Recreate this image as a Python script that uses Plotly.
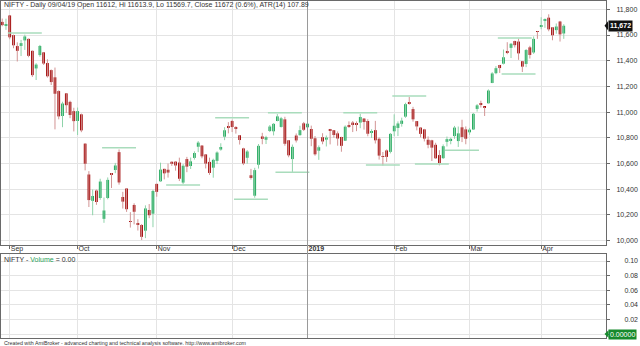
import plotly.graph_objects as go

# ---------------- data ----------------
DATES = [
    "2018-08-30", "2018-08-31",
    "2018-09-03", "2018-09-04", "2018-09-05", "2018-09-06", "2018-09-07", "2018-09-10", "2018-09-11",
    "2018-09-12", "2018-09-14", "2018-09-17", "2018-09-18", "2018-09-19", "2018-09-21", "2018-09-24",
    "2018-09-25", "2018-09-26", "2018-09-27", "2018-09-28",
    "2018-10-01", "2018-10-03", "2018-10-04", "2018-10-05", "2018-10-08", "2018-10-09", "2018-10-10",
    "2018-10-11", "2018-10-12", "2018-10-15", "2018-10-16", "2018-10-17", "2018-10-19", "2018-10-22",
    "2018-10-23", "2018-10-24", "2018-10-25", "2018-10-26", "2018-10-29", "2018-10-30", "2018-10-31",
    "2018-11-01", "2018-11-02", "2018-11-05", "2018-11-06", "2018-11-07", "2018-11-09", "2018-11-12",
    "2018-11-13", "2018-11-14", "2018-11-15", "2018-11-16", "2018-11-19", "2018-11-20", "2018-11-21",
    "2018-11-22", "2018-11-26", "2018-11-27", "2018-11-28", "2018-11-29", "2018-11-30",
    "2018-12-03", "2018-12-04", "2018-12-05", "2018-12-06", "2018-12-07", "2018-12-10", "2018-12-11",
    "2018-12-12", "2018-12-13", "2018-12-14", "2018-12-17", "2018-12-18", "2018-12-19", "2018-12-20",
    "2018-12-21", "2018-12-24", "2018-12-26", "2018-12-27", "2018-12-28", "2018-12-31",
    "2019-01-01", "2019-01-02", "2019-01-03", "2019-01-04", "2019-01-07", "2019-01-08", "2019-01-09",
    "2019-01-10", "2019-01-11", "2019-01-14", "2019-01-15", "2019-01-16", "2019-01-17", "2019-01-18",
    "2019-01-21", "2019-01-22", "2019-01-23", "2019-01-24", "2019-01-25", "2019-01-28", "2019-01-29",
    "2019-01-30", "2019-01-31",
    "2019-02-01", "2019-02-04", "2019-02-05", "2019-02-06", "2019-02-07", "2019-02-08", "2019-02-11",
    "2019-02-12", "2019-02-13", "2019-02-14", "2019-02-15", "2019-02-18", "2019-02-19", "2019-02-20",
    "2019-02-21", "2019-02-22", "2019-02-25", "2019-02-26", "2019-02-27", "2019-02-28",
    "2019-03-01", "2019-03-05", "2019-03-06", "2019-03-07", "2019-03-08", "2019-03-11", "2019-03-12",
    "2019-03-13", "2019-03-14", "2019-03-15", "2019-03-18", "2019-03-19", "2019-03-20", "2019-03-22",
    "2019-03-25", "2019-03-26", "2019-03-27", "2019-03-28", "2019-03-29",
    "2019-04-01", "2019-04-02", "2019-04-03", "2019-04-04", "2019-04-05", "2019-04-08", "2019-04-09",
]

OPEN = [
    11702, 11675,
    11752, 11599, 11514, 11515, 11558, 11570, 11477, 11340, 11444, 11465, 11382, 11327, 11271, 11164,
    10970, 11146, 11080, 11008,
    10931, 10983, 10755, 10515, 10310, 10390, 10332, 10170, 10332, 10524, 10550, 10689, 10340, 10406,
    10152, 10278, 10135, 10122, 10078, 10239, 10210,
    10442, 10462, 10559, 10552, 10614, 10615, 10608, 10452, 10635, 10581, 10644, 10731, 10740, 10671,
    10613, 10568, 10621, 10709, 10809, 10892,
    10931, 10877, 10820, 10718, 10645, 10509, 10350, 10591, 10811, 10785, 10853, 10851, 10931, 10885,
    10944, 10781, 10635, 10818, 10821, 10913,
    10882, 10869, 10797, 10700, 10805, 10786, 10862, 10859, 10835, 10807, 10778, 10900, 10919, 10915,
    10919, 10950, 10931, 10844, 10860, 10793, 10654, 10702, 10691,
    10851, 10877, 10909, 10965, 11070, 11024, 10930, 10880, 10866, 10785, 10781, 10746, 10666, 10642,
    10769, 10783, 10814, 10775, 10882, 10866,
    10843, 10865, 11025, 11068, 11039, 11069, 11227, 11303, 11367, 11377, 11474, 11500, 11553, 11549,
    11396, 11375, 11504, 11464, 11625,
    11665, 11712, 11735, 11660, 11638, 11705, 11612,
]

HIGH = [
    11728, 11727,
    11752, 11603, 11543, 11562, 11603, 11573, 11479, 11381, 11523, 11465, 11411, 11332, 11347, 11170,
    11081, 11146, 11089, 11034,
    11036, 10989, 10755, 10541, 10398, 10398, 10482, 10336, 10492, 10526, 10605, 10710, 10380, 10409,
    10222, 10291, 10167, 10129, 10275, 10285, 10396,
    10442, 10607, 10559, 10600, 10616, 10620, 10646, 10596, 10652, 10647, 10695, 10775, 10741, 10671,
    10646, 10638, 10695, 10758, 10883, 10922,
    10941, 10891, 10821, 10723, 10705, 10559, 10567, 10752, 10839, 10816, 10900, 10915, 10985, 10963,
    10964, 10782, 10748, 10834, 10894, 10924,
    10924, 10895, 10814, 10741, 10836, 10818, 10870, 10859, 10850, 10808, 10897, 10928, 10931, 10928,
    10987, 10950, 10945, 10867, 10932, 10804, 10690, 10710, 10838,
    10983, 10928, 10957, 11073, 11118, 11041, 10930, 10883, 10870, 10811, 10785, 10762, 10704, 10749,
    10810, 10802, 10893, 10888, 10941, 10889,
    10878, 10994, 11063, 11089, 11042, 11177, 11311, 11358, 11367, 11487, 11544, 11537, 11556, 11572,
    11396, 11491, 11516, 11589, 11630,
    11738, 11729, 11761, 11662, 11690, 11710, 11684,
]

LOW = [
    11668, 11640,
    11567, 11497, 11394, 11436, 11484, 11427, 11274, 11250, 11431, 11367, 11269, 11211, 10866, 10944,
    10883, 10993, 10953, 10850,
    10822, 10844, 10547, 10262, 10198, 10279, 10318, 10139, 10322, 10410, 10525, 10436, 10250, 10224,
    10102, 10127, 10079, 10005, 10020, 10175, 10105,
    10342, 10458, 10477, 10491, 10582, 10545, 10464, 10441, 10533, 10558, 10631, 10689, 10641, 10562,
    10512, 10490, 10596, 10700, 10782, 10835,
    10845, 10833, 10748, 10588, 10599, 10475, 10334, 10561, 10750, 10752, 10845, 10819, 10928, 10880,
    10739, 10649, 10535, 10764, 10817, 10853,
    10807, 10735, 10661, 10629, 10750, 10733, 10749, 10802, 10739, 10692, 10778, 10877, 10845, 10852,
    10875, 10864, 10812, 10799, 10756, 10631, 10584, 10613, 10679,
    10813, 10814, 10887, 10956, 11058, 10926, 10858, 10803, 10772, 10719, 10620, 10637, 10586, 10636,
    10733, 10750, 10793, 10729, 10767, 10750,
    10824, 10862, 11004, 11036, 10970, 11067, 11225, 11295, 11305, 11371, 11451, 11421, 11503, 11407,
    11312, 11350, 11417, 11453, 11570,
    11645, 11656, 11629, 11559, 11610, 11549, 11570,
]

CLOSE = [
    11677, 11680,
    11582, 11520, 11477, 11537, 11589, 11438, 11288, 11370, 11515, 11378, 11279, 11234, 11143, 10967,
    11067, 11054, 10978, 10930,
    11008, 10858, 10599, 10316, 10348, 10301, 10460, 10235, 10473, 10513, 10585, 10453, 10304, 10245,
    10147, 10225, 10125, 10030, 10251, 10198, 10387,
    10380, 10553, 10524, 10530, 10598, 10585, 10482, 10583, 10576, 10617, 10682, 10763, 10656, 10600,
    10527, 10629, 10686, 10729, 10859, 10877,
    10884, 10870, 10783, 10601, 10694, 10488, 10549, 10738, 10792, 10805, 10888, 10909, 10967, 10952,
    10754, 10664, 10730, 10780, 10860, 10863,
    10910, 10793, 10672, 10727, 10772, 10802, 10855, 10822, 10795, 10738, 10887, 10890, 10905, 10907,
    10962, 10923, 10832, 10850, 10781, 10662, 10652, 10652, 10831,
    10894, 10912, 10934, 11062, 11069, 10944, 10889, 10831, 10794, 10746, 10724, 10641, 10604, 10735,
    10790, 10792, 10880, 10835, 10807, 10793,
    10864, 10987, 11053, 11058, 11035, 11168, 11301, 11342, 11343, 11427, 11462, 11532, 11521, 11457,
    11354, 11483, 11445, 11570, 11624,
    11669, 11713, 11644, 11598, 11666, 11605, 11672,
]

# swing-level lines (pivot bar, level)
SWING_PIVOT = ["2018-09-07", "2018-10-17", "2018-11-13", "2018-12-10", "2018-12-26", "2018-12-03",
               "2018-12-21", "2019-01-29", "2019-02-15", "2019-02-27", "2019-01-21", "2019-02-07",
               "2019-03-20", "2019-03-22"]
SWING_LEVEL = [11616, 10723, 10433, 10322, 10532, 10957, 10996, 10589, 10597, 10703, 10996, 11126,
               11577, 11297]

PRICE_TICKS = [10000, 10200, 10400, 10600, 10800, 11000, 11200, 11400, 11600, 11800]
VOL_TICKS = [0.00, 0.02, 0.04, 0.06, 0.08, 0.10]
VOL_TICK_TEXT = ["", "0.02", "0.04", "0.06", "0.08", "0.10"]
MONTH_LABELS = ["Sep", "Oct", "Nov", "Dec", "<b>2019</b>", "Feb", "Mar", "Apr"]
LAST_VOLUME = "0.00000"

TITLE = ("NIFTY - Daily 09/04/19 Open 11612, Hi 11613.9, Lo 11569.7, "
         "Close 11672 (0.6%), ATR(14) 107.89")
FOOTER = ("Created with AmiBroker - advanced charting and technical analysis software. "
          "http://www.amibroker.com")

# ---------------- style ----------------
W, H = 640, 346
UP_BODY = "#17a555"
DN_BODY = "#a00000"
UP_WICK = "#8fd3aa"
DN_WICK = "#d29494"
SWING_COL = "#a9dcbc"
GRID = "#e4e4e4"
AXIS = "#6a6a6a"
TXT = "#333333"
FONT = "Liberation Sans, Arial, sans-serif"
BODY_W = 0.72
MIN_BODY = 6
HALF_SPAN = 4.5

X0, X1 = -0.32, 160.2
PX_TOP, PX_BOT = 1, 245
VPX_TOP, VPX_BOT = 254, 338

n = len(DATES)
xi = list(range(n))
pos = {d: i for i, d in enumerate(DATES)}
is_up = [c >= o for o, c in zip(OPEN, CLOSE)]

fig = go.Figure()

# wicks
for flag, col in ((True, UP_WICK), (False, DN_WICK)):
    xs, ys = [], []
    for i in xi:
        if is_up[i] == flag:
            xs += [i, i, None]
            ys += [LOW[i], HIGH[i], None]
    fig.add_trace(go.Scatter(x=xs, y=ys, mode="lines", line=dict(color=col, width=1),
                             hoverinfo="skip", showlegend=False, xaxis="x", yaxis="y"))

# swing lines
sx, sy = [], []
for d, lv in zip(SWING_PIVOT, SWING_LEVEL):
    p = pos[d]
    sx += [p - HALF_SPAN, p + HALF_SPAN, None]
    sy += [lv, lv, None]
fig.add_trace(go.Scatter(x=sx, y=sy, mode="lines", line=dict(color=SWING_COL, width=1.5),
                         hoverinfo="skip", showlegend=False, xaxis="x", yaxis="y"))

# bodies
for flag, col in ((True, UP_BODY), (False, DN_BODY)):
    bx = [i for i in xi if is_up[i] == flag]
    base = [min(OPEN[i], CLOSE[i]) for i in bx]
    hgt = [max(abs(CLOSE[i] - OPEN[i]), MIN_BODY) for i in bx]
    fig.add_trace(go.Bar(x=bx, y=hgt, base=base, width=BODY_W,
                         marker=dict(color=col, line=dict(width=0)),
                         hoverinfo="skip", showlegend=False, xaxis="x", yaxis="y"))

# month ticks
month_idx = [i for i in range(1, n) if DATES[i][5:7] != DATES[i - 1][5:7]]
year_idx = [i for i in month_idx if DATES[i][5:7] == "01"]

# price axis range from pixel mapping (11800 -> 9.3px, 10000 -> 240.7px)
ppx = (240.7 - 9.3) / 1800.0
y_top = 11800 + (9.3 - PX_TOP) / ppx
y_bot = 10000 - (PX_BOT - 240.7) / ppx
vpx = (334 - 261) / 0.10
v_top = 0.10 + (261 - VPX_TOP) / vpx
v_bot = 0.0 - (VPX_BOT - 334) / vpx

xdom = [1 / W, 606 / W]
common_x = dict(range=[X0, X1], tickvals=month_idx, showgrid=True, gridcolor=GRID, gridwidth=1,
                zeroline=False, showline=True, linecolor=AXIS, linewidth=1, mirror=True,
                domain=xdom, fixedrange=True)

fig.update_layout(
    width=W, height=H, margin=dict(l=0, r=0, t=0, b=0),
    paper_bgcolor="white", plot_bgcolor="white", showlegend=False, barmode="overlay",
    font=dict(family=FONT, size=7, color=TXT),
    xaxis=dict(anchor="y", ticktext=MONTH_LABELS, ticks="outside", ticklen=3, tickcolor=AXIS,
               ticklabelposition="outside right", tickfont=dict(size=7, color=TXT),
               ticklabelstandoff=-3, **common_x),
    yaxis=dict(domain=[1 - PX_BOT / H, 1 - PX_TOP / H], range=[y_bot, y_top], side="right",
               tickvals=PRICE_TICKS, tickformat=",d", ticks="outside", ticklen=3, tickcolor=AXIS,
               showgrid=True, gridcolor=GRID, zeroline=False, showline=True, linecolor=AXIS,
               mirror=True, tickfont=dict(size=7, color=TXT), ticklabelstandoff=5,
               fixedrange=True),
    xaxis2=dict(anchor="y2", showticklabels=False, ticks="", **common_x),
    yaxis2=dict(domain=[1 - VPX_BOT / H, 1 - VPX_TOP / H], range=[v_bot, v_top], side="right",
                tickvals=VOL_TICKS, ticktext=VOL_TICK_TEXT, ticks="outside", ticklen=3,
                tickcolor=AXIS, showgrid=True, gridcolor=GRID, zeroline=False, showline=True,
                linecolor=AXIS, mirror=True, tickfont=dict(size=7, color=TXT),
                ticklabelstandoff=13, fixedrange=True),
)

# empty volume panel trace so the axes exist
fig.add_trace(go.Scatter(x=[], y=[], xaxis="x2", yaxis="y2", showlegend=False))

# darker year separator
for i in year_idx:
    fig.add_shape(type="line", xref="x", yref="paper", x0=i, x1=i,
                  y0=1 - VPX_BOT / H, y1=1 - PX_TOP / H, line=dict(color="#9a9a9a", width=1))

# text annotations
fig.add_annotation(xref="paper", yref="paper", x=2 / W, y=1 - 5 / H, xanchor="left",
                   yanchor="middle", text=TITLE, showarrow=False,
                   font=dict(size=7, color=TXT, family=FONT))
fig.add_annotation(xref="paper", yref="paper", x=2 / W, y=1 - 259 / H, xanchor="left",
                   yanchor="middle", showarrow=False,
                   text="NIFTY - <span style='color:#2aa35a'>Volume</span> = 0.00",
                   font=dict(size=7, color=TXT, family=FONT))
fig.add_annotation(xref="paper", yref="paper", x=2 / W, y=1 - 343 / H, xanchor="left",
                   yanchor="middle", showarrow=False, text=FOOTER,
                   font=dict(size=5.3, color=TXT, family=FONT))

# last-value labels
last = CLOSE[-1]
fig.add_annotation(xref="paper", yref="y", x=607.5 / W, y=last, xanchor="left",
                   yanchor="middle", showarrow=False, text="<b>{:,}</b>".format(last),
                   bgcolor="#111111", borderpad=1, font=dict(size=7, color="white", family=FONT))
fig.add_shape(type="path", xref="paper", yref="y",
              path="M {a},{y} L {b},{y1} L {b},{y2} Z".format(a=604.5 / W, b=608 / W, y=last,
                                                             y1=last + 35, y2=last - 35),
              fillcolor="#111111", line=dict(width=0))
fig.add_annotation(xref="paper", yref="y2", x=608 / W, y=0, xanchor="left", yanchor="middle",
                   showarrow=False, text=LAST_VOLUME, bgcolor="#178a2c", borderpad=1,
                   font=dict(size=7, color="white", family=FONT))
fig.add_shape(type="path", xref="paper", yref="y2",
              path="M {a},0 L {b},{y1} L {b},{y2} Z".format(a=604.5 / W, b=608.5 / W,
                                                           y1=0.005, y2=-0.005),
              fillcolor="#178a2c", line=dict(width=0))

fig.write_html("out.html")
